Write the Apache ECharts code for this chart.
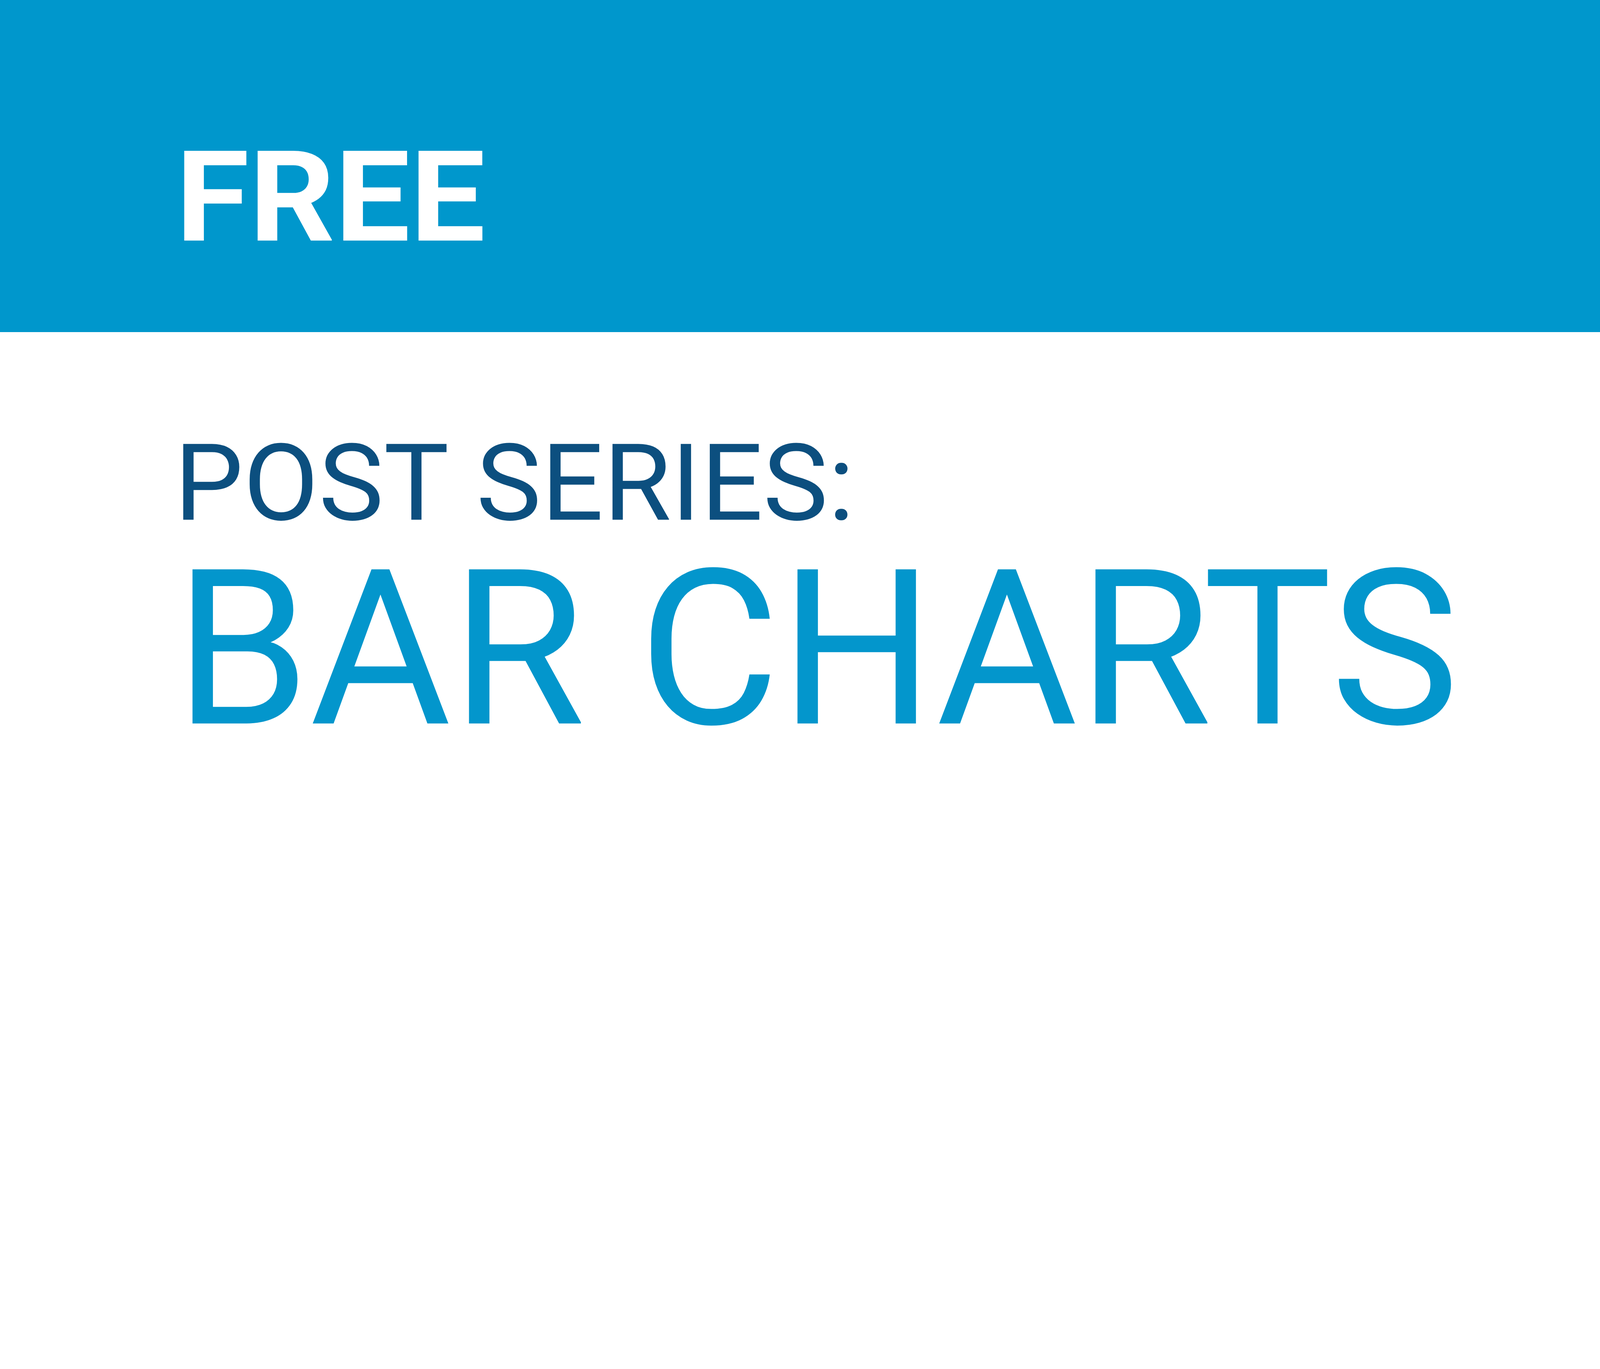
<!DOCTYPE html>
<html><head><meta charset="utf-8">
<script src="https://cdn.jsdelivr.net/npm/echarts@6/dist/echarts.min.js"></script>
<style>html,body{margin:0;padding:0;background:#fff}#c{width:5154px;height:3504px}</style>
</head><body><div id="c"></div>
<script>
const headerText = ['FREE'];
const kickerText = ['POST SERIES:'];
const titleText = ['BAR CHARTS'];
const colors = { band: '#0097cc', header: '#ffffff', kicker: '#0c4f7f', title: '#0396cc' };

const chart = echarts.init(document.getElementById('c'), null, { renderer: 'canvas' });
chart.setOption({
  backgroundColor: '#ffffff',
  animation: false,
  graphic: [
    { type: 'rect', left: 0, top: 0, shape: { width: 5154, height: 850 }, style: { fill: colors.band } },
    { type: 'text', x: 450, y: 535, scaleX: 1.06, style: { text: headerText.join(' '), fill: colors.header, font: 'bold 323px Roboto', textVerticalAlign: 'middle', textAlign: 'left' } },
    { type: 'text', x: 446, y: 1262, scaleX: 1.027, style: { text: kickerText.join(' '), fill: colors.kicker, font: '400 273px Roboto', textVerticalAlign: 'middle', textAlign: 'left' } },
    { type: 'text', x: 447, y: 1713, style: { text: titleText.join(' '), fill: colors.title, font: '400 555px Roboto', textVerticalAlign: 'middle', textAlign: 'left' } }
  ]
});
</script></body></html>
